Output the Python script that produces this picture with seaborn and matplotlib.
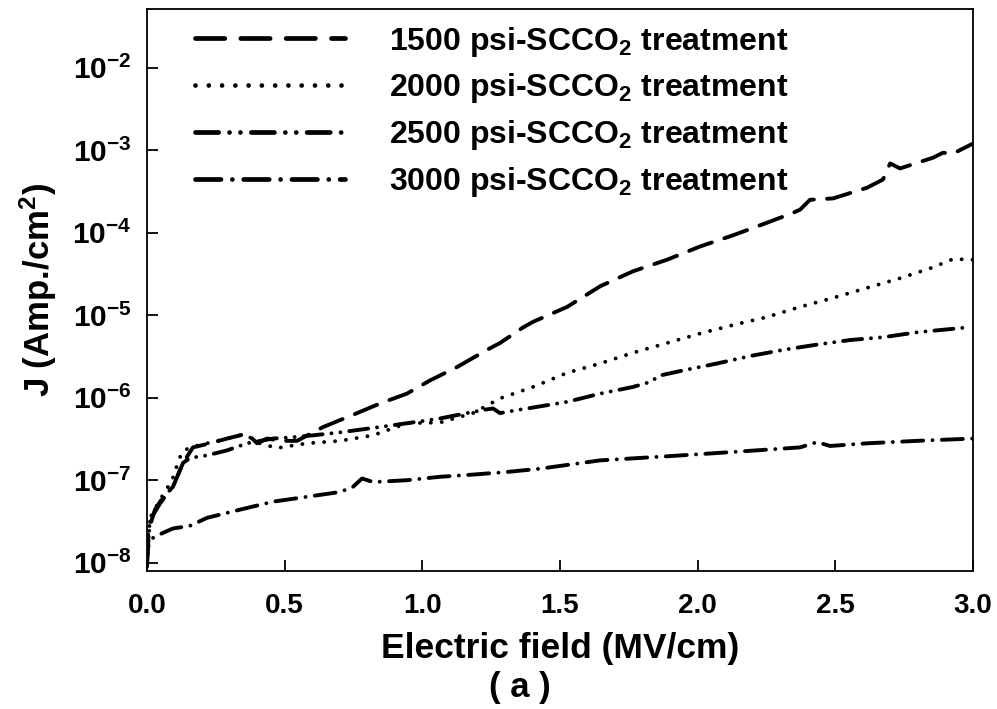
import numpy as np
import pandas as pd
import matplotlib
matplotlib.use("Agg")
import matplotlib.pyplot as plt
import matplotlib.ticker as mticker
import seaborn as sns

# ---------------- data ----------------
x_1500 = [0.0, 0.005, 0.029, 0.058, 0.094, 0.131, 0.167, 0.229, 0.291, 0.338, 0.363,
          0.400, 0.436, 0.483, 0.545, 0.639, 0.748, 0.846, 0.944, 1.028, 1.126, 1.235,
          1.282, 1.366, 1.402, 1.526, 1.646, 1.765, 1.889, 2.009, 2.129, 2.252, 2.347,
          2.372, 2.408, 2.492, 2.615, 2.673, 2.699, 2.735, 2.855, 2.891, 2.928, 3.0]
j_1500 = [1.12e-8, 2.45e-8, 4.4e-8, 6.2e-8, 8.3e-8, 1.62e-7, 2.5e-7, 2.8e-7, 3.2e-7, 3.5e-7, 3.7e-7,
          2.8e-7, 3.2e-7, 3.0e-7, 3.0e-7, 4.4e-7, 6.2e-7, 8.5e-7, 1.12e-6, 1.62e-6, 2.35e-6, 3.8e-6,
          4.6e-6, 7.1e-6, 8.3e-6, 1.26e-5, 2.24e-5, 3.4e-5, 4.7e-5, 6.8e-5, 9.3e-5, 1.32e-4, 1.74e-4,
          1.9e-4, 2.5e-4, 2.6e-4, 3.5e-4, 4.4e-4, 6.9e-4, 6.0e-4, 8.1e-4, 9.3e-4, 9.1e-4, 1.2e-3]

x_2000 = [0.0, 0.011, 0.047, 0.091, 0.112, 0.127, 0.156, 0.218, 0.291, 0.338, 0.374,
          0.410, 0.472, 0.581, 0.701, 0.821, 0.944, 1.064, 1.184, 1.282, 1.402, 1.526,
          1.646, 1.765, 1.889, 2.009, 2.129, 2.252, 2.372, 2.492, 2.615, 2.735, 2.855,
          2.928, 3.0]
j_2000 = [1.12e-8, 3.5e-8, 5.8e-8, 1.0e-7, 1.62e-7, 2.2e-7, 2.5e-7, 2.8e-7, 3.2e-7, 3.5e-7, 3.3e-7,
          2.8e-7, 2.45e-7, 2.8e-7, 3.0e-7, 3.5e-7, 4.9e-7, 5.0e-7, 6.5e-7, 9.8e-7, 1.35e-6, 2.0e-6,
          2.6e-6, 3.5e-6, 4.6e-6, 6.0e-6, 7.6e-6, 9.5e-6, 1.26e-5, 1.62e-5, 2.14e-5, 2.8e-5, 3.8e-5,
          4.8e-5, 4.7e-5]

x_2500 = [0.0, 0.011, 0.047, 0.083, 0.094, 0.131, 0.156, 0.218, 0.291, 0.363, 0.458,
          0.520, 0.603, 0.701, 0.821, 0.944, 1.064, 1.162, 1.220, 1.257, 1.282, 1.346,
          1.402, 1.526, 1.646, 1.765, 1.827, 1.864, 1.947, 2.071, 2.191, 2.311, 2.434,
          2.554, 2.673, 2.797, 2.978]
j_2500 = [1.12e-8, 3.3e-8, 5.2e-8, 7.6e-8, 8.3e-8, 1.62e-7, 1.86e-7, 2.0e-7, 2.3e-7, 2.8e-7, 3.2e-7,
          3.3e-7, 3.5e-7, 3.8e-7, 4.3e-7, 4.9e-7, 5.6e-7, 6.5e-7, 7.1e-7, 7.4e-7, 6.5e-7, 7.1e-7,
          7.6e-7, 8.9e-7, 1.12e-6, 1.35e-6, 1.55e-6, 1.86e-6, 2.14e-6, 2.6e-6, 3.2e-6, 3.8e-6, 4.4e-6,
          5.0e-6, 5.4e-6, 6.2e-6, 7.1e-6]

x_3000 = [0.0, 0.004, 0.022, 0.058, 0.094, 0.156, 0.218, 0.338, 0.458, 0.581, 0.701,
          0.748, 0.781, 0.821, 0.944, 1.064, 1.184, 1.308, 1.428, 1.646, 1.889, 2.129,
          2.372, 2.434, 2.481, 2.615, 2.797, 3.0]
j_3000 = [8.9e-9, 1.55e-8, 2.0e-8, 2.3e-8, 2.6e-8, 2.8e-8, 3.5e-8, 4.4e-8, 5.5e-8, 6.3e-8, 7.2e-8,
          8.3e-8, 1.05e-7, 9.5e-8, 1.0e-7, 1.1e-7, 1.17e-7, 1.26e-7, 1.38e-7, 1.74e-7, 1.95e-7, 2.2e-7,
          2.5e-7, 2.9e-7, 2.6e-7, 2.8e-7, 3.0e-7, 3.2e-7]

series_labels = ["1500 psi-SCCO$_{2}$ treatment",
                 "2000 psi-SCCO$_{2}$ treatment",
                 "2500 psi-SCCO$_{2}$ treatment",
                 "3000 psi-SCCO$_{2}$ treatment"]
x_ticks = [0.0, 0.5, 1.0, 1.5, 2.0, 2.5, 3.0]
x_tick_labels = ["0.0", "0.5", "1.0", "1.5", "2.0", "2.5", "3.0"]
y_exponents = [-8, -7, -6, -5, -4, -3, -2]

# ---------------- style ----------------
sns.set_theme(style="ticks")
plt.rcParams["font.family"] = ["Liberation Sans", "DejaVu Sans"]
plt.rcParams["font.weight"] = "bold"
plt.rcParams["mathtext.fontset"] = "custom"
plt.rcParams["mathtext.rm"] = "Liberation Sans:bold"
plt.rcParams["mathtext.bf"] = "Liberation Sans:bold"
plt.rcParams["mathtext.it"] = "Liberation Sans:bold"
plt.rcParams["mathtext.default"] = "rm"
for key in ["text.color", "axes.labelcolor", "xtick.color", "ytick.color",
            "xtick.labelcolor", "ytick.labelcolor", "axes.edgecolor"]:
    plt.rcParams[key] = "black"

fig = plt.figure(figsize=(9.97, 7.09), dpi=100)
ax = fig.add_axes([147 / 997, 1 - 571 / 709, (973 - 147) / 997, (571 - 9) / 709])

LW = 2.8
styles = [
    (0, (6.2, 3.4)),
    (0, (0.01, 2.8)),
    (0, (4.9, 2.3, 0.01, 2.3, 0.01, 2.3)),
    (0, (5.4, 2.4, 0.01, 2.4)),
]
xs = [x_1500, x_2000, x_2500, x_3000]
js = [j_1500, j_2000, j_2500, j_3000]

handles = []
for xv, jv, ls, lab in zip(xs, js, styles, series_labels):
    df = pd.DataFrame({"E": xv, "J": jv})
    sns.lineplot(data=df, x="E", y="J", ax=ax, color="black", linewidth=LW,
                 linestyle=ls, dash_capstyle="round", solid_capstyle="round",
                 estimator=None, sort=False, legend=False)
    handles.append(ax.lines[-1])

ax.set_yscale("log")
ax.set_xlim(0, 3.0)
ax.set_ylim(10 ** -8.1, 10 ** -1.29)

ax.xaxis.set_major_locator(mticker.FixedLocator(x_ticks))
ax.set_xticklabels(x_tick_labels)
ax.yaxis.set_major_locator(mticker.FixedLocator([10.0 ** e for e in y_exponents]))
ax.yaxis.set_minor_locator(mticker.NullLocator())
ax.set_yticklabels([f"$10^{{{e}}}$" for e in y_exponents])

ax.tick_params(axis="both", direction="in", length=8, width=1.3, color="black",
               labelcolor="black")
ax.tick_params(axis="x", pad=16, labelsize=20)
ax.tick_params(axis="y", pad=11, labelsize=21.5)
for lab in ax.get_xticklabels() + ax.get_yticklabels():
    lab.set_fontweight("bold")

for sp in ax.spines.values():
    sp.set_visible(True)
    sp.set_linewidth(1.3)
    sp.set_color("black")

ax.set_xlabel("Electric field (MV/cm)", fontsize=25.5, fontweight="bold", labelpad=9)
ax.set_ylabel("J (Amp./cm$^{2}$)", fontsize=25, fontweight="bold", labelpad=10)
fig.text(520 / 997, 1 - 687 / 709, "( a )", fontsize=25, fontweight="bold",
         ha="center", va="center")

leg = ax.legend(handles, series_labels, loc="upper left", frameon=False,
                fontsize=23, handlelength=4.7, handletextpad=1.35,
                labelspacing=0.40, borderaxespad=0.0,
                bbox_to_anchor=(0.043, 0.995))
for t in leg.get_texts():
    t.set_fontweight("bold")
for ln in leg.get_lines():
    ln.set_linewidth(3.4)

fig.savefig("out.png", dpi=100, facecolor="white")
